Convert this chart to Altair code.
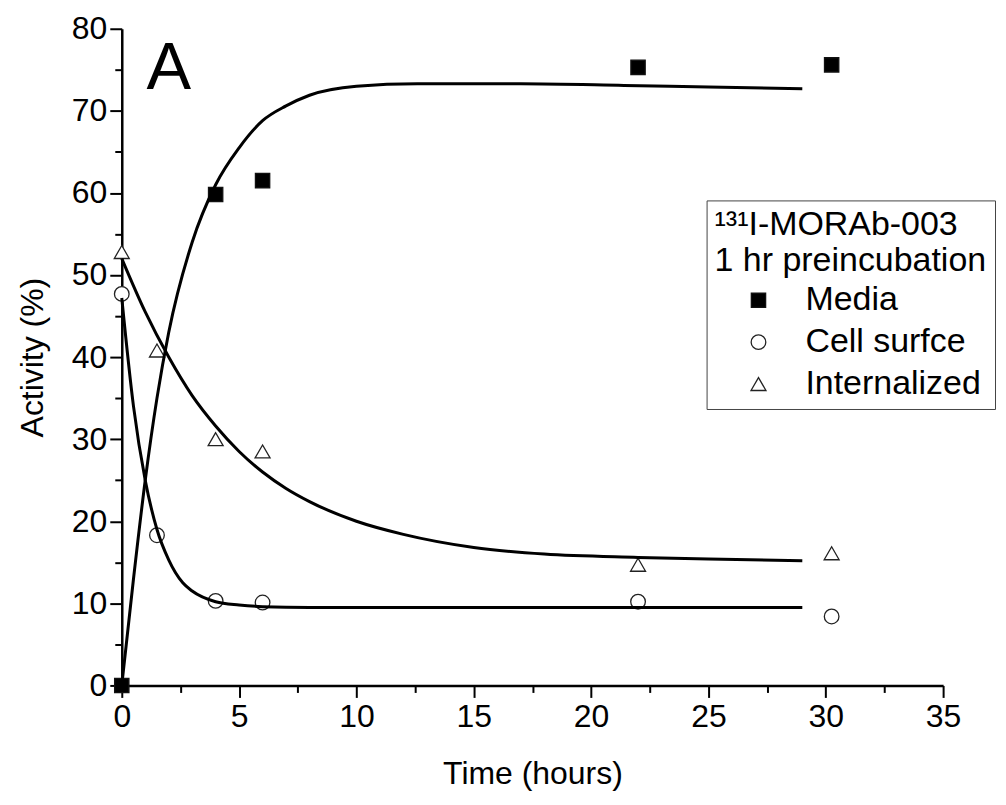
import altair as alt
import pandas as pd

# Observed data points
media_t = [0, 4, 6, 22, 30.25]
media_v = [0, 59.8, 61.5, 75.3, 75.6]
cell_t = [0, 1.5, 4, 6, 22, 30.25]
cell_v = [47.7, 18.3, 10.3, 10.1, 10.2, 8.4]
int_t = [0, 1.5, 4, 6, 22, 30.25]
int_v = [52.8, 40.8, 30.0, 28.5, 14.7, 16.1]

# Fitted curves
media_fit_t = [0, 0.5, 1, 1.5, 2, 3, 4, 5, 6, 7, 8, 10, 12.6, 17, 21.4, 25, 29]
media_fit_v = [0, 13, 25, 35, 43, 54, 61, 65.5, 68.8, 70.6, 71.9, 73.0, 73.3, 73.3, 73.1, 72.9, 72.7]
cell_fit_t = [0, 0.5, 1, 1.5, 2, 2.6, 3, 4, 5, 6, 8, 15, 22, 29]
cell_fit_v = [47.2, 34, 25, 19, 15.3, 12.5, 11.5, 10.2, 9.8, 9.6, 9.5, 9.5, 9.5, 9.5]
int_fit_t = [0, 1, 2, 3, 4, 5, 6, 7, 8, 10, 12, 15, 18, 22, 25, 29]
int_fit_v = [52, 45.5, 40, 35.3, 31.6, 28.5, 26, 24, 22.4, 20, 18.4, 16.8, 16.0, 15.6, 15.4, 15.2]

series = ["Media", "Cell surfce", "Internalized"]

pts = pd.DataFrame(
    [{"t": t, "v": v, "s": "Media"} for t, v in zip(media_t, media_v)]
    + [{"t": t, "v": v, "s": "Cell surfce"} for t, v in zip(cell_t, cell_v)]
    + [{"t": t, "v": v, "s": "Internalized"} for t, v in zip(int_t, int_v)]
)
fits = pd.DataFrame(
    [{"t": t, "v": v, "s": "Media"} for t, v in zip(media_fit_t, media_fit_v)]
    + [{"t": t, "v": v, "s": "Cell surfce"} for t, v in zip(cell_fit_t, cell_fit_v)]
    + [{"t": t, "v": v, "s": "Internalized"} for t, v in zip(int_fit_t, int_fit_v)]
)

x_ticks = [i * 2.5 for i in range(15)]
y_ticks = [i * 5 for i in range(17)]

FONT = "Liberation Sans"

x_axis = alt.Axis(
    values=x_ticks,
    labelExpr="datum.value % 5 === 0 ? datum.label : ''",
    tickSize={"condition": {"test": "datum.value % 5 !== 0", "value": 7}, "value": 12},
    title="Time (hours)",
    grid=False,
    labelOverlap=False,
    labelFlush=False,
    labelPadding=4,
    titlePadding=26,
)
y_axis = alt.Axis(
    values=y_ticks,
    labelExpr="datum.value % 10 === 0 ? datum.label : ''",
    tickSize={"condition": {"test": "datum.value % 10 !== 0", "value": 7}, "value": 12},
    title="Activity (%)",
    grid=False,
    labelOverlap=False,
    labelFlush=False,
    labelPadding=3,
    titlePadding=22,
)

xs = alt.Scale(domain=[0, 35], nice=False, zero=False)
ys = alt.Scale(domain=[0, 80], nice=False, zero=False)

legend = alt.Legend(
    title=["\u00b9\u00b3\u00b9I-MORAb-003", "1 hr preincubation"],
    orient="none",
    legendX=586,
    legendY=172,
    strokeColor="#444",
    padding=8,
    titleFontSize=34,
    titleFont=FONT,
    titleFontWeight="normal",
    titleLineHeight=36,
    titlePadding=5,
    titleColor="black",
    titleLimit=500,
    labelFontSize=34,
    labelFont=FONT,
    labelColor="black",
    labelLimit=400,
    labelOffset=30,
    symbolOffset=27,
    symbolStrokeWidth=1.3,
    rowPadding=8,
)

points = alt.Chart(pts).mark_point(filled=True, strokeWidth=1.3, opacity=1).encode(
    x=alt.X("t:Q", scale=xs, axis=x_axis),
    y=alt.Y("v:Q", scale=ys, axis=y_axis),
    shape=alt.Shape("s:N", scale=alt.Scale(domain=series, range=["square", "circle", "triangle-up"]), legend=legend),
    fill=alt.Fill("s:N", scale=alt.Scale(domain=series, range=["black", "white", "white"]), legend=legend),
    stroke=alt.Stroke("s:N", scale=alt.Scale(domain=series, range=["#111", "#222", "#222"]), legend=legend),
    size=alt.Size("s:N", scale=alt.Scale(domain=series, range=[205, 225, 335]), legend=legend),
)

lines = alt.Chart(fits).mark_line(color="black", strokeWidth=3, interpolate="monotone").encode(
    x=alt.X("t:Q", scale=xs),
    y=alt.Y("v:Q", scale=ys),
    detail="s:N",
)

label_a = alt.Chart(pd.DataFrame({"txt": ["A"]})).mark_text(
    fontSize=67, font=FONT, align="center", baseline="alphabetic", color="black"
).encode(text="txt:N", x=alt.value(47), y=alt.value(60))

chart = (
    alt.layer(points, lines, label_a)
    .properties(
        width=823,
        height=658,
        autosize=alt.AutoSizeParams(type="none"),
        padding={"left": 114, "top": 20, "right": 55, "bottom": 115},
    )
    .configure_view(stroke=None)
    .configure_axis(
        domainColor="black",
        domainWidth=2.5,
        tickColor="black",
        tickWidth=2,
        labelFont=FONT,
        labelFontSize=32,
        labelColor="black",
        titleFont=FONT,
        titleFontSize=32,
        titleFontWeight="normal",
        titleColor="black",
    )
)

chart.save("out.html", embed_options={"renderer": "svg", "actions": False})
